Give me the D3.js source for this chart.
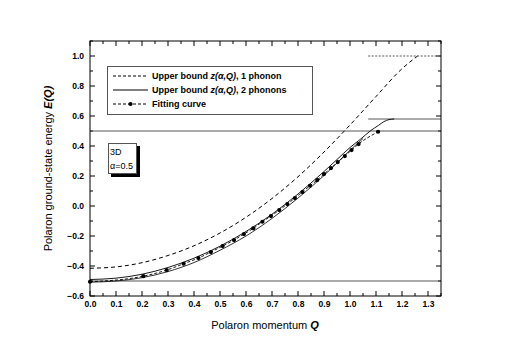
<!DOCTYPE html>
<html>
<head>
<meta charset="utf-8">
<script src="https://cdn.jsdelivr.net/npm/d3@7"></script>
<style>
  body { margin: 0; background: #fff; }
  text { font-family: "Liberation Sans", Arial, sans-serif; }
</style>
</head>
<body>
<svg id="chart" width="512" height="358"></svg>
<script>
// upper bound, 1 phonon (dashed)
var q1 = [0, 0.1, 0.2, 0.3, 0.4, 0.5, 0.6, 0.7, 0.8, 0.9, 1.0, 1.1, 1.2, 1.26];
var e1 = [-0.415, -0.406, -0.378, -0.33, -0.265, -0.18, -0.075, 0.05, 0.195, 0.36, 0.54, 0.73, 0.915, 1.0];

// upper bound, 2 phonons (solid)
var q2 = [0, 0.1, 0.2, 0.3, 0.4, 0.5, 0.6, 0.7, 0.8, 0.9, 0.95, 1.0, 1.04, 1.08, 1.11, 1.13, 1.15, 1.17];
var e2 = [-0.49, -0.481, -0.455, -0.41, -0.348, -0.268, -0.17, -0.055, 0.08, 0.23, 0.31, 0.39, 0.445, 0.503, 0.538, 0.562, 0.576, 0.58];

// thin line just under the fit
var qLow = [0, 0.1, 0.2, 0.3, 0.4, 0.5, 0.6, 0.7, 0.8, 0.9, 1.0, 1.05];
var eLow = [-0.508, -0.5, -0.478, -0.437, -0.377, -0.295, -0.2, -0.083, 0.053, 0.203, 0.372, 0.45];

// fitting curve points
var qFit = [0, 0.205, 0.295, 0.36, 0.417, 0.465, 0.51, 0.554, 0.592, 0.628, 0.663, 0.696, 0.728, 0.759, 0.788, 0.817, 0.846, 0.874, 0.9, 0.927, 0.953, 0.98, 1.006, 1.033, 1.108];
var eFit = [-0.505, -0.468, -0.427, -0.385, -0.347, -0.307, -0.267, -0.227, -0.187, -0.149, -0.105, -0.067, -0.027, 0.013, 0.053, 0.093, 0.135, 0.173, 0.213, 0.253, 0.293, 0.333, 0.373, 0.413, 0.495];

// horizontal reference levels: [level, from Q, to Q, dashed]
var hLevels = [[0.5, 0, 1.35, false], [-0.5, 0, 1.35, false], [0.58, 1.07, 1.35, false], [1.0, 1.07, 1.35, true]];

var xTicks = [0, 0.1, 0.2, 0.3, 0.4, 0.5, 0.6, 0.7, 0.8, 0.9, 1.0, 1.1, 1.2, 1.3];
var yTicks = [-0.6, -0.4, -0.2, 0.0, 0.2, 0.4, 0.6, 0.8, 1.0];

var svg = d3.select("#chart");
var pL = 90, pR = 441, pT = 41, pB = 296;

var x = d3.scaleLinear().domain([0, 1.35]).range([pL, pR]);
var y = d3.scaleLinear().domain([-0.6, 1.1]).range([pB, pT]);

var xMinor = d3.range(0, 1.351, 0.05);
var yMinor = d3.range(-0.6, 1.101, 0.1);

// axes with inward ticks
function tickSize(major, v) {
  return major.some(function(m) { return Math.abs(m - v) < 1e-6; }) ? 5 : 3;
}
var ax = svg.append("g");
xMinor.forEach(function(v) {
  var s = tickSize(xTicks, v);
  ax.append("line").attr("x1", x(v)).attr("x2", x(v)).attr("y1", pB).attr("y2", pB - s).attr("stroke", "#000");
  ax.append("line").attr("x1", x(v)).attr("x2", x(v)).attr("y1", pT).attr("y2", pT + s).attr("stroke", "#000");
});
yMinor.forEach(function(v) {
  var s = tickSize(yTicks, v);
  ax.append("line").attr("x1", pL).attr("x2", pL + s).attr("y1", y(v)).attr("y2", y(v)).attr("stroke", "#000");
  ax.append("line").attr("x1", pR).attr("x2", pR - s).attr("y1", y(v)).attr("y2", y(v)).attr("stroke", "#000");
});

svg.append("g").attr("transform", "translate(0," + pB + ")")
  .call(d3.axisBottom(x).tickValues(xTicks).tickFormat(d3.format(".1f")).tickSize(0).tickPadding(5))
  .call(function(g) { g.select(".domain").remove(); })
  .selectAll("text").attr("font-size", 8.5).attr("font-weight", "bold").attr("font-family", "Liberation Sans, Arial");

svg.append("g").attr("transform", "translate(" + pL + ",0)")
  .call(d3.axisLeft(y).tickValues(yTicks).tickFormat(d3.format(".1f")).tickSize(0).tickPadding(6))
  .call(function(g) { g.select(".domain").remove(); })
  .selectAll("text").attr("font-size", 8.5).attr("font-weight", "bold").attr("font-family", "Liberation Sans, Arial");

// reference levels
hLevels.forEach(function(h) {
  svg.append("line")
    .attr("x1", x(h[1])).attr("x2", x(h[2]))
    .attr("y1", y(h[0])).attr("y2", y(h[0]))
    .attr("stroke", "#444").attr("stroke-width", 0.9)
    .attr("stroke-dasharray", h[3] ? "2,1.5" : null);
});

var line = d3.line().x(function(d) { return x(d[0]); }).y(function(d) { return y(d[1]); }).curve(d3.curveMonotoneX);

svg.append("path").datum(d3.zip(q1, e1)).attr("d", line)
  .attr("fill", "none").attr("stroke", "#000").attr("stroke-width", 1).attr("stroke-dasharray", "4,3");
svg.append("path").datum(d3.zip(q2, e2)).attr("d", line)
  .attr("fill", "none").attr("stroke", "#000").attr("stroke-width", 0.9);
svg.append("path").datum(d3.zip(qLow, eLow)).attr("d", line)
  .attr("fill", "none").attr("stroke", "#000").attr("stroke-width", 0.8);
svg.append("path").datum(d3.zip(qFit, eFit)).attr("d", line)
  .attr("fill", "none").attr("stroke", "#000").attr("stroke-width", 0.9).attr("stroke-dasharray", "3,2");
svg.selectAll("circle.fit").data(d3.zip(qFit, eFit)).enter().append("circle")
  .attr("class", "fit")
  .attr("cx", function(d) { return x(d[0]); })
  .attr("cy", function(d) { return y(d[1]); })
  .attr("r", 2.1).attr("fill", "#000");

// frame
svg.append("rect").attr("x", pL).attr("y", pT).attr("width", pR - pL).attr("height", pB - pT)
  .attr("fill", "none").attr("stroke", "#000").attr("stroke-width", 1);

// legend
var lg = svg.append("g");
lg.append("rect").attr("x", 107.5).attr("y", 66.5).attr("width", 205).attr("height", 48)
  .attr("fill", "#fff").attr("stroke", "#555").attr("stroke-width", 1);
var legendRows = [
  { dash: "3,2", dot: false, pre: "Upper bound ", it: "z(\u03b1,Q)", post: ", 1 phonon" },
  { dash: null, dot: false, pre: "Upper bound ", it: "z(\u03b1,Q)", post: ", 2 phonons" },
  { dash: "3,2", dot: true, pre: "Fitting curve", it: "", post: "" }
];
legendRows.forEach(function(r, i) {
  var ly = 76 + i * 14;
  lg.append("line").attr("x1", 113).attr("x2", 148).attr("y1", ly).attr("y2", ly)
    .attr("stroke", "#000").attr("stroke-width", 1).attr("stroke-dasharray", r.dash);
  if (r.dot) lg.append("circle").attr("cx", 130.5).attr("cy", ly).attr("r", 2.1).attr("fill", "#000");
  var t = lg.append("text").attr("x", 152).attr("y", ly + 3).attr("font-size", 9).attr("font-weight", "bold");
  t.append("tspan").text(r.pre);
  if (r.it) t.append("tspan").attr("font-style", "italic").text(r.it);
  if (r.post) t.append("tspan").text(r.post);
});

// inset label with shadow
svg.append("rect").attr("x", 111).attr("y", 146).attr("width", 29).attr("height", 31).attr("fill", "#000");
svg.append("rect").attr("x", 108.5).attr("y", 143.5).attr("width", 28).attr("height", 30)
  .attr("fill", "#fff").attr("stroke", "#555").attr("stroke-width", 1);
svg.append("text").attr("x", 110).attr("y", 155).attr("font-size", 9).text("3D");
svg.append("text").attr("x", 110).attr("y", 169).attr("font-size", 9).text("\u03b1=0.5");

// axis titles
var yt = svg.append("text").attr("transform", "translate(52," + ((pT + pB) / 2) + ") rotate(-90)")
  .attr("text-anchor", "middle").attr("font-size", 11);
yt.append("tspan").text("Polaron ground-state energy ");
yt.append("tspan").attr("font-weight", "bold").attr("font-style", "italic").text("E(Q)");

var xt = svg.append("text").attr("x", 265).attr("y", 329).attr("text-anchor", "middle").attr("font-size", 11);
xt.append("tspan").text("Polaron momentum ");
xt.append("tspan").attr("font-weight", "bold").attr("font-style", "italic").text("Q");
</script>
</body>
</html>
